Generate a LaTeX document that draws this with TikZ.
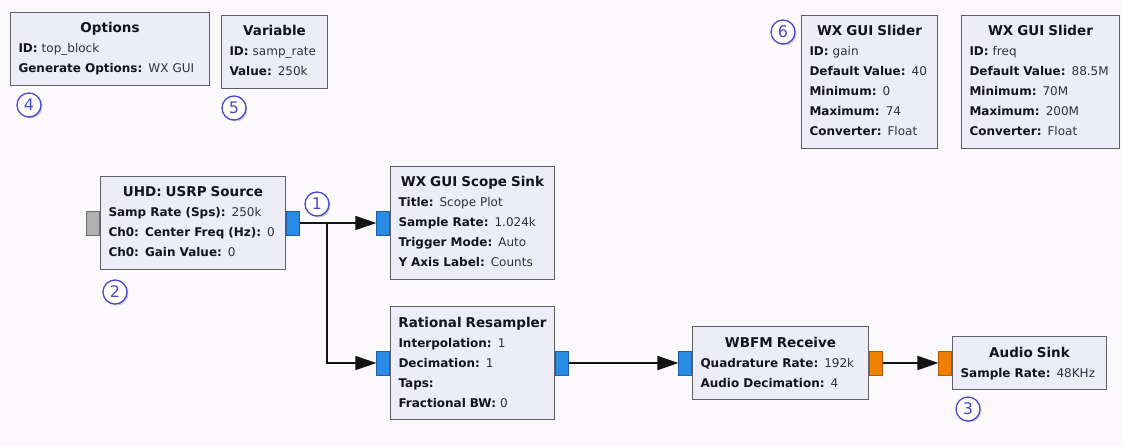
\documentclass[tikz,border=0pt]{standalone}
\usepackage{fontspec}
\setmainfont{DejaVu Sans}
\newfontfamily\numfont{DejaVu Sans}
\usetikzlibrary{arrows.meta,shadows}

\definecolor{canvas}{RGB}{252,249,252}
\definecolor{blockfill}{RGB}{237,237,249}
\definecolor{blockline}{RGB}{95,95,100}
\definecolor{keytext}{RGB}{20,20,30}
\definecolor{valtext}{RGB}{50,50,60}
\definecolor{portblue}{RGB}{40,140,230}
\definecolor{portblueline}{RGB}{30,95,165}
\definecolor{portorange}{RGB}{240,128,0}
\definecolor{portorangeline}{RGB}{170,90,10}
\definecolor{portgray}{RGB}{176,176,176}
\definecolor{portgrayline}{RGB}{110,110,110}
\definecolor{wirecol}{RGB}{20,20,20}
\definecolor{markblue}{RGB}{75,75,205}

% block title and parameter lines
\newcommand\ttl[1]{\strut\makebox[\hsize][c]{\fontsize{13.5}{20}\selectfont\bfseries\color{keytext}#1}}
\newcommand\prm[2]{\strut\mbox{\textbf{\color{keytext}#1:} \color{valtext}#2}}

\tikzset{
  blk/.style={draw=blockline, fill=blockfill, line width=1pt, anchor=north west,
    inner xsep=8pt, inner ysep=6.5pt, align=left,
    font=\fontsize{12}{20}\selectfont},
  port/.style={minimum width=13pt, minimum height=24pt, inner sep=0pt, line width=0.6pt},
  bport/.style={port, fill=portblue, draw=portblueline},
  oport/.style={port, fill=portorange, draw=portorangeline},
  gport/.style={port, fill=portgray, draw=portgrayline},
  wire/.style={draw=wirecol, line width=2pt, -{Triangle[length=21pt,width=14pt]}},
  thinwire/.style={wire, line width=1.3pt},
  numbadge/.style={circle, draw=markblue, line width=1.3pt, fill=white,
    minimum size=24pt, inner sep=0pt, text=markblue,
    font=\numfont\fontsize{16}{16}\selectfont,
    drop shadow={shadow xshift=1.5pt, shadow yshift=-1.5pt, opacity=0.35, fill=black!60}},
}

\begin{document}
\begin{tikzpicture}[x=1pt,y=-1pt]
\path[fill=canvas] (0,0) rectangle (1123,446);

% top row: options, variable, sliders
\node[blk, text width=183] (options) at (10,12)
  {\ttl{Options}\\ \prm{ID}{top\_block}\\ \prm{Generate Options}{WX GUI}};
\node[blk, text width=90] (variable) at (221,15)
  {\ttl{Variable}\\ \prm{ID}{samp\_rate}\\ \prm{Value}{250k}};
\node[blk, text width=120] (gain) at (801,15)
  {\ttl{WX GUI Slider}\\ \prm{ID}{gain}\\ \prm{Default Value}{40}\\
   \prm{Minimum}{0}\\ \prm{Maximum}{74}\\ \prm{Converter}{Float}};
\node[blk, text width=142] (freq) at (961,15)
  {\ttl{WX GUI Slider}\\ \prm{ID}{freq}\\ \prm{Default Value}{88.5M}\\
   \prm{Minimum}{70M}\\ \prm{Maximum}{200M}\\ \prm{Converter}{Float}};

% signal chain
\node[blk, text width=169] (usrp) at (100,176)
  {\ttl{UHD: USRP Source}\\ \prm{Samp Rate (Sps)}{250k}\\
   \prm{Ch0: Center Freq (Hz)}{0}\\ \prm{Ch0: Gain Value}{0}};
\node[blk, text width=148] (scope) at (390,166)
  {\ttl{WX GUI Scope Sink}\\ \prm{Title}{Scope Plot}\\ \prm{Sample Rate}{1.024k}\\
   \prm{Trigger Mode}{Auto}\\ \prm{Y Axis Label}{Counts}};
\node[blk, text width=148] (resamp) at (390,306)
  {\ttl{Rational Resampler}\\ \prm{Interpolation}{1}\\ \prm{Decimation}{1}\\
   \prm{Taps}{}\\ \prm{Fractional BW}{0}};
\node[blk, text width=160] (wbfm) at (692,326)
  {\ttl{WBFM Receive}\\ \prm{Quadrature Rate}{192k}\\ \prm{Audio Decimation}{4}};
\node[blk, text width=138] (audio) at (952,336)
  {\ttl{Audio Sink}\\ \prm{Sample Rate}{48KHz}};

% ports
\node[gport, anchor=east] (usrp-in) at (usrp.west) {};
\node[bport, anchor=west] (usrp-out) at (usrp.east) {};
\node[bport, anchor=east] (scope-in) at (scope.west) {};
\node[bport, anchor=east] (resamp-in) at (resamp.west) {};
\node[bport, anchor=west] (resamp-out) at (resamp.east) {};
\node[bport, anchor=east] (wbfm-in) at (wbfm.west) {};
\node[oport, anchor=west] (wbfm-out) at (wbfm.east) {};
\node[oport, anchor=east] (audio-in) at (audio.west) {};

% connections
\coordinate (split) at (327,0 |- usrp-out.east);
\draw[thinwire] (usrp-out.east) -- (scope-in.west);
\draw[thinwire] (usrp-out.east) -- (split) |- (resamp-in.west);
\draw[wire] (resamp-out.east) -- (wbfm-in.west);
\draw[wire] (wbfm-out.east) -- (audio-in.west);

% numbered markers
\node[numbadge] (m1) at (317,204) {1};
\node[numbadge] (m2) at (115,292) {2};
\node[numbadge] (m3) at (968,409) {3};
\node[numbadge] (m4) at (29,105) {4};
\node[numbadge] (m5) at (234,108) {5};
\node[numbadge] (m6) at (783,32) {6};
\end{tikzpicture}
\end{document}
